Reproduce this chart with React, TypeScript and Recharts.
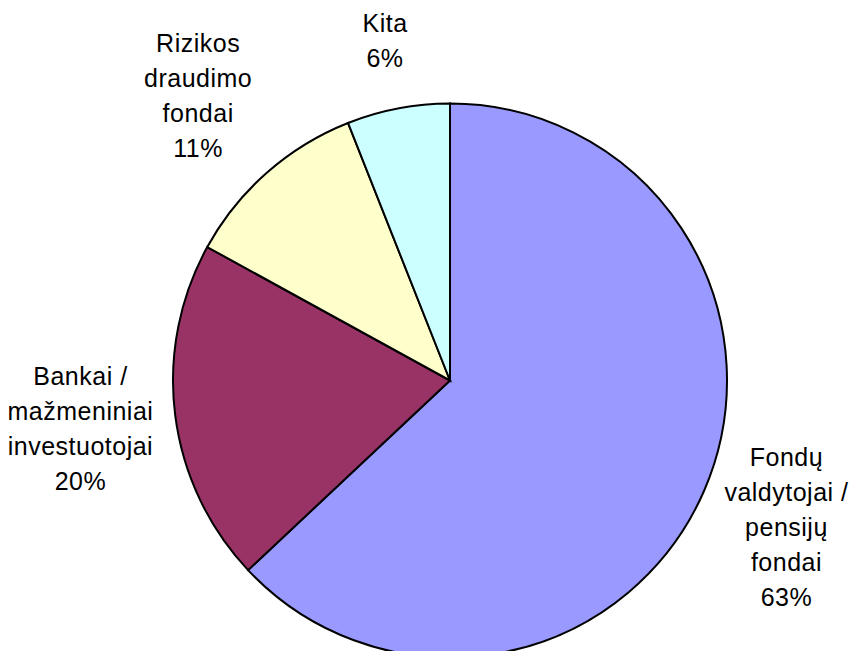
import { PieChart, Pie, Cell } from "recharts";

document.body.style.margin = "0";

const categories = [
  ["Fondų", "valdytojai /", "pensijų", "fondai"],
  ["Bankai /", "mažmeniniai", "investuotojai"],
  ["Rizikos", "draudimo", "fondai"],
  ["Kita"],
];
const shares = [63, 20, 11, 6];
const COLORS = ["#9999FF", "#993366", "#FFFFCC", "#CCFFFF"];

const data = categories.map((lines, i) => ({
  name: lines.join(" "),
  lines,
  value: shares[i],
}));

const FONT_SIZE = 25;
const LETTER = 0.5;
const LINE_H = 35;
const FONT = "Liberation Sans, Arial, sans-serif";

let ctx: CanvasRenderingContext2D | null = null;
function textWidth(s: string) {
  if (!ctx) ctx = document.createElement("canvas").getContext("2d");
  if (!ctx) return s.length * 13;
  ctx.font = `${FONT_SIZE}px ${FONT}`;
  return ctx.measureText(s).width + LETTER * s.length;
}

const RADIAN = Math.PI / 180;

// place the label block outside the slice, along its middle ray
function renderLabel(props: any) {
  const { cx, cy, midAngle, outerRadius, percent, payload } = props;
  const lines: string[] = [...payload.lines, `${Math.round(percent * 100)}%`];
  const w = Math.max(...lines.map(textWidth));
  const h = lines.length * LINE_H;
  const cos = Math.cos(-midAngle * RADIAN);
  const sin = Math.sin(-midAngle * RADIAN);
  const halfW = w / 2;
  const halfH = h / 2 + 12;
  const tx = Math.abs(cos) > 1e-6 ? halfW / Math.abs(cos) : Infinity;
  const ty = Math.abs(sin) > 1e-6 ? halfH / Math.abs(sin) : Infinity;
  const dist = outerRadius + 22 + Math.min(tx, ty);
  const x = cx + dist * cos;
  const y = cy + dist * sin;
  const top = y - h / 2;
  return (
    <text
      x={x}
      y={top}
      textAnchor="middle"
      fill="#000"
      fontSize={FONT_SIZE}
      fontFamily={FONT}
      style={{ letterSpacing: `${LETTER}px` }}
    >
      {lines.map((l, i) => (
        <tspan key={i} x={x} y={top + 27.6 + i * LINE_H}>
          {l}
        </tspan>
      ))}
    </text>
  );
}

export default function App() {
  return (
    <div style={{ width: 852, height: 651, background: "#fff" }}>
      <PieChart
        width={852}
        height={651}
        margin={{ top: 0, right: 0, bottom: 0, left: 0 }}
      >
        <Pie
          data={data}
          dataKey="value"
          nameKey="name"
          cx={450}
          cy={380.5}
          outerRadius={277}
          startAngle={90}
          endAngle={-270}
          stroke="#000"
          strokeWidth={2}
          label={renderLabel}
          labelLine={false}
          isAnimationActive={false}
        >
          {data.map((_, i) => (
            <Cell key={i} fill={COLORS[i]} />
          ))}
        </Pie>
      </PieChart>
    </div>
  );
}
